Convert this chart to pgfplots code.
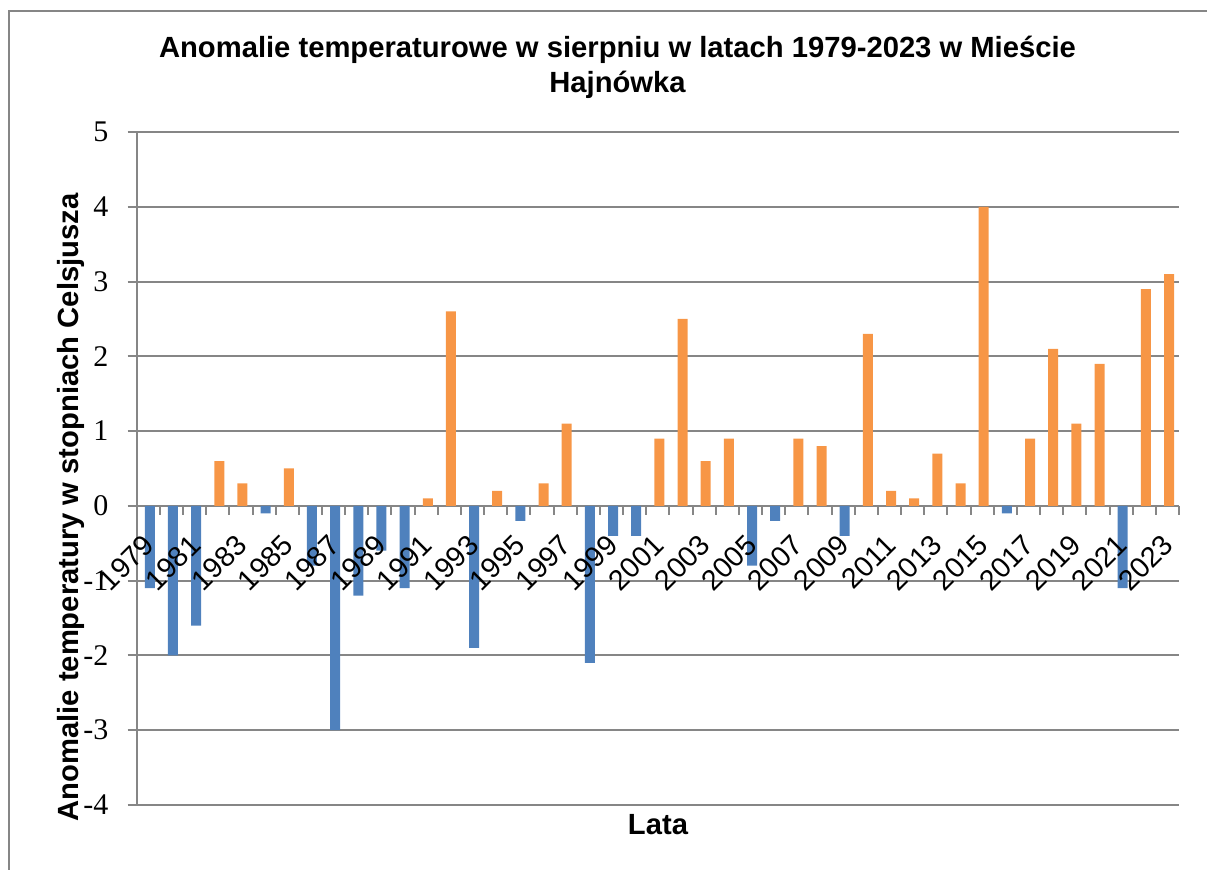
\documentclass[border=0pt]{standalone}
\usepackage{fontspec}
\setmainfont{Liberation Sans}
\newfontfamily\tickfont{Liberation Serif}
\usepackage{pgfplots}
\pgfplotsset{compat=1.18}

\definecolor{barblue}{RGB}{79,129,189}
\definecolor{barorange}{RGB}{247,150,70}
\definecolor{gridgray}{RGB}{134,134,134}

\pgfplotsset{
  frame/.style={
    at={(68.35pt,32.5pt)}, anchor=south west,
    scale only axis, width=521.2pt, height=336.5pt,
    xmin=1978.5, xmax=2023.5, ymin=-4, ymax=5,
    axis x line*=middle, axis y line*=left,
    tick align=outside,
    major tick length=4.5pt, minor tick length=4.5pt,
    xtick={1979,1981,...,2023},
    major x tick style={draw=none},
    /pgf/number format/assume math mode=true,
    /pgf/number format/1000 sep={},
  },
}

\begin{document}
\begin{tikzpicture}[x=0.5pt,y=0.5pt]
\path[use as bounding box] (0,0) rectangle (1207,870);
\draw[gridgray, line width=1pt] (9,0) -- (9,859) -- (1210,859);

\begin{axis}[
  frame,
  axis line style={gridgray, line width=1pt},
  xticklabels={},
  minor xtick={1978.5,1979.5,...,2023.5},
  minor x tick style={gridgray, line width=1pt},
  ytick={-4,-3,...,5},
  yticklabels={-4,-3,-2,-1,0,1,2,3,4,5},
  ytick style={gridgray, line width=1pt},
  ymajorgrids, grid style={gridgray, line width=1pt},
  yticklabel style={xshift=-9.5pt, inner sep=0pt,
    font=\tickfont\fontsize{15}{17}\selectfont},
]
% ujemne anomalie
\addplot[ybar, bar width=5pt, bar shift=0.75pt, fill=barblue, draw=none] coordinates {
  (1979,-1.1) (1980,-2.0) (1981,-1.6) (1984,-0.1) (1986,-0.8) (1987,-3.0)
  (1988,-1.2) (1989,-0.6) (1990,-1.1) (1993,-1.9) (1995,-0.2) (1998,-2.1)
  (1999,-0.4) (2000,-0.4) (2005,-0.8) (2006,-0.2) (2009,-0.4) (2016,-0.1)
  (2021,-1.1)
};
% dodatnie anomalie
\addplot[ybar, bar width=5pt, bar shift=0.75pt, fill=barorange, draw=none] coordinates {
  (1982,0.6) (1983,0.3) (1985,0.5) (1991,0.1) (1992,2.6) (1994,0.2)
  (1996,0.3) (1997,1.1) (2001,0.9) (2002,2.5) (2003,0.6) (2004,0.9)
  (2007,0.9) (2008,0.8) (2010,2.3) (2011,0.2) (2012,0.1) (2013,0.7)
  (2014,0.3) (2015,4.0) (2017,0.9) (2018,2.1) (2019,1.1) (2020,1.9)
  (2022,2.9) (2023,3.1)
};
\end{axis}

% second pass: only the year labels, so they lie above the bars
\begin{axis}[
  frame,
  axis line style={draw=none},
  ytick=\empty,
  xticklabel style={xshift=0.5pt, yshift=-12.5pt, rotate=45, anchor=east, inner sep=0pt,
    font=\fontsize{14.3}{16}\selectfont},
]
\end{axis}

\node[anchor=base, font=\bfseries\fontsize{14.6}{17}\selectfont] at (617.5,812.5)
  {Anomalie temperaturowe w sierpniu w latach 1979-2023 w Mieście};
\node[anchor=base, font=\bfseries\fontsize{14.6}{17}\selectfont] at (617.5,777) {Hajnówka};
\node[anchor=base, font=\bfseries\fontsize{14.6}{17}\selectfont] at (658,35) {Lata};
\node[anchor=base, rotate=90, font=\bfseries\fontsize{14.6}{17}\selectfont] at (78,362.5)
  {Anomalie temperatury w stopniach Celsjusza};
\end{tikzpicture}
\end{document}
